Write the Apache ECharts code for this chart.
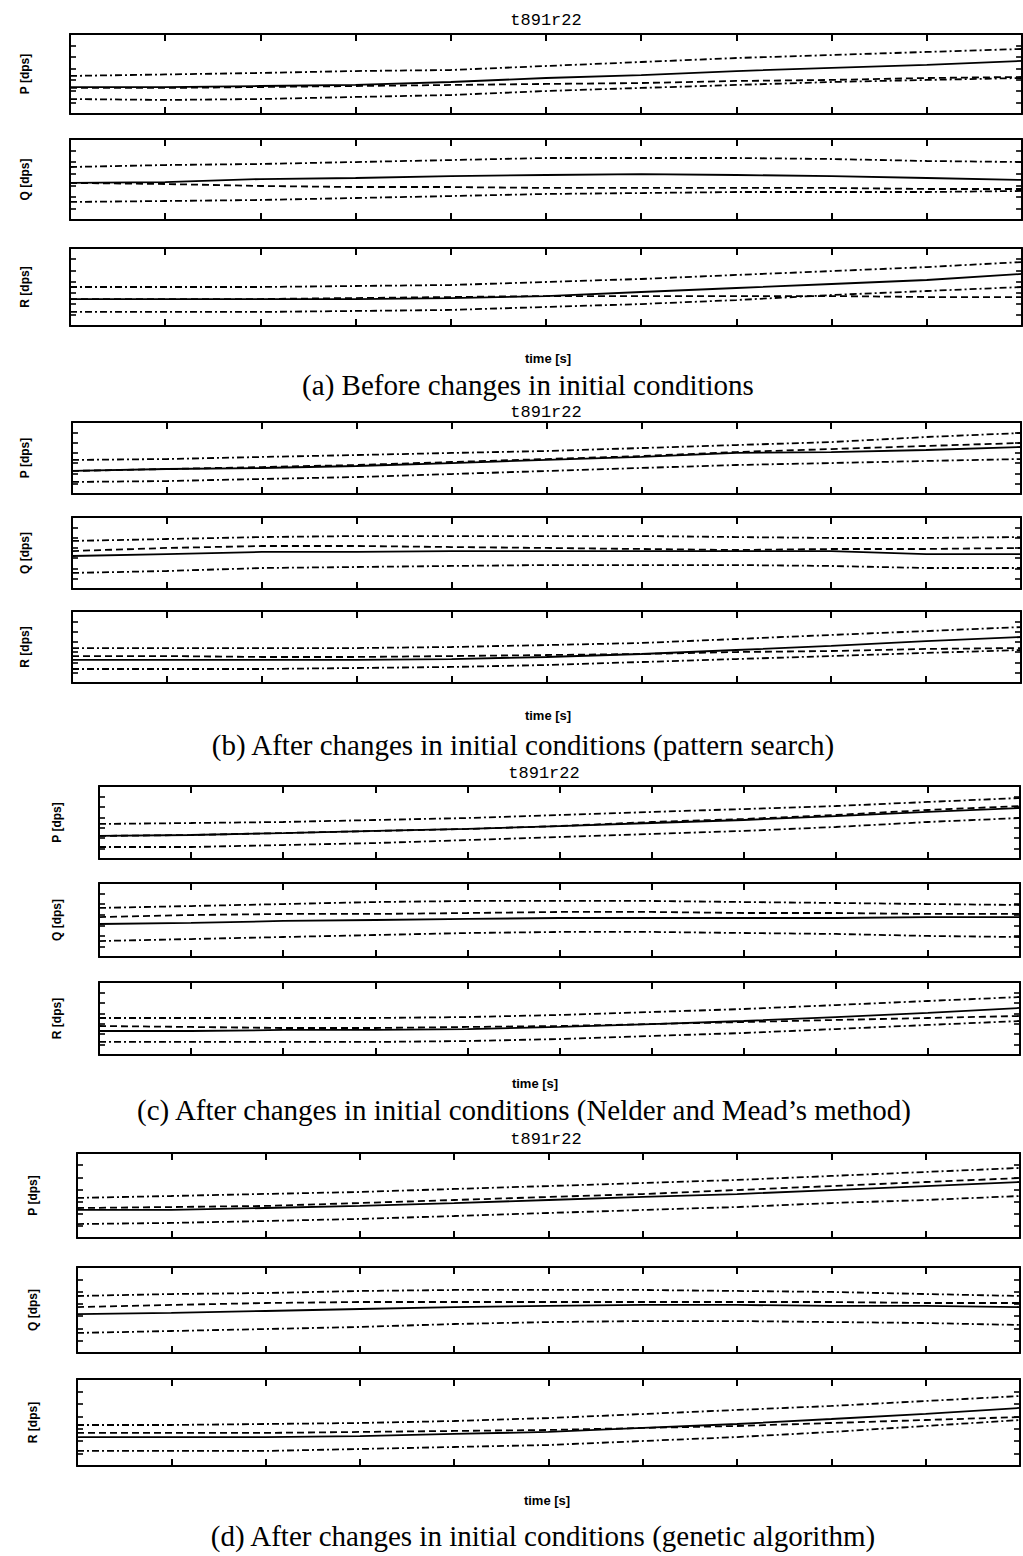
<!DOCTYPE html>
<html><head><meta charset="utf-8">
<script src="https://cdn.jsdelivr.net/npm/echarts@6/dist/echarts.min.js"></script>
<style>html,body{margin:0;padding:0;background:#fff;}#c{width:1023px;height:1556px;}</style>
</head><body><div id="c"></div>
<script>
const time = [0,1,2,3,4,5,6,7,8,9,10];
const panelLabels = ['P [dps]','Q [dps]','R [dps]'];
const runTitle = 't891r22';
const timeLabel = 'time [s]';
const captions = [
  '(a) Before changes in initial conditions',
  '(b) After changes in initial conditions (pattern search)',
  '(c) After changes in initial conditions (Nelder and Mead\u2019s method)',
  '(d) After changes in initial conditions (genetic algorithm)'
];

// (a) before changes
const aP_solid = [2.36,2.36,2.45,2.54,2.80,3.15,3.41,3.76,4.03,4.29,4.64];
const aP_dash  = [2.28,2.28,2.36,2.45,2.54,2.63,2.71,2.89,2.98,3.15,3.24];
const aP_upper = [3.33,3.46,3.59,3.76,3.85,4.20,4.55,4.90,5.16,5.43,5.69];
const aP_lower = [1.31,1.23,1.31,1.49,1.66,2.01,2.28,2.54,2.80,2.98,3.15];
const aQ_solid = [3.20,3.28,3.54,3.63,3.80,3.89,3.97,3.89,3.80,3.63,3.46];
const aQ_dash  = [3.20,3.11,2.94,2.85,2.85,2.77,2.77,2.77,2.77,2.68,2.68];
const aQ_upper = [4.58,4.75,4.84,5.01,5.18,5.36,5.36,5.36,5.27,5.10,5.01];
const aQ_lower = [1.56,1.64,1.73,1.90,2.07,2.25,2.33,2.42,2.42,2.42,2.51];
const aR_solid = [2.42,2.42,2.42,2.42,2.51,2.69,3.05,3.41,3.77,4.13,4.67];
const aR_dash  = [2.42,2.42,2.42,2.51,2.60,2.69,2.69,2.69,2.69,2.60,2.60];
const aR_upper = [3.50,3.50,3.50,3.59,3.68,3.95,4.22,4.58,4.93,5.29,5.74];
const aR_lower = [1.26,1.26,1.26,1.35,1.44,1.71,1.97,2.33,2.78,3.14,3.50];
// (b) pattern search
const bP_solid = [2.24,2.43,2.53,2.72,3.01,3.31,3.60,3.99,4.08,4.28,4.57];
const bP_dash  = [2.24,2.43,2.62,2.82,3.11,3.40,3.69,4.08,4.37,4.67,4.96];
const bP_upper = [3.31,3.40,3.60,3.79,3.99,4.18,4.47,4.76,5.05,5.54,5.93];
const bP_lower = [1.17,1.26,1.46,1.65,1.94,2.24,2.53,2.82,3.01,3.21,3.40];
const bQ_solid = [3.21,3.40,3.60,3.60,3.69,3.69,3.69,3.69,3.69,3.40,3.40];
const bQ_dash  = [3.69,3.99,4.18,4.18,4.08,3.99,3.89,3.79,3.89,3.89,3.99];
const bQ_upper = [4.67,4.86,5.05,5.15,5.15,5.15,5.15,5.05,4.96,4.96,5.05];
const bQ_lower = [1.56,1.75,2.04,2.14,2.24,2.33,2.33,2.33,2.24,2.04,2.04];
const bR_solid = [2.24,2.24,2.24,2.24,2.33,2.53,2.82,3.21,3.60,4.08,4.47];
const bR_dash  = [2.62,2.62,2.53,2.53,2.62,2.72,2.82,3.01,3.11,3.31,3.40];
const bR_upper = [3.40,3.40,3.40,3.40,3.50,3.69,3.89,4.28,4.67,5.05,5.44];
const bR_lower = [1.36,1.36,1.36,1.46,1.56,1.75,2.04,2.33,2.62,2.92,3.21];
// (c) Nelder and Mead
const cP_solid = [2.21,2.30,2.49,2.69,2.88,3.16,3.45,3.74,4.12,4.51,4.89];
const cP_dash  = [2.21,2.30,2.49,2.69,2.88,3.16,3.55,3.84,4.22,4.70,5.08];
const cP_upper = [3.36,3.45,3.55,3.74,3.93,4.22,4.51,4.79,5.08,5.47,5.85];
const cP_lower = [1.15,1.15,1.34,1.53,1.82,2.11,2.40,2.69,3.07,3.55,3.93];
const cQ_solid = [3.12,3.22,3.41,3.50,3.60,3.69,3.69,3.69,3.69,3.78,3.78];
const cQ_dash  = [3.78,3.97,4.07,4.07,4.16,4.26,4.26,4.16,4.16,4.07,4.07];
const cQ_upper = [4.64,4.82,5.01,5.20,5.30,5.30,5.30,5.20,5.11,5.01,4.92];
const cQ_lower = [1.51,1.70,1.89,2.08,2.27,2.37,2.37,2.27,2.18,1.99,1.89];
const cR_solid = [2.30,2.30,2.40,2.40,2.49,2.69,2.97,3.26,3.64,4.03,4.51];
const cR_dash  = [2.78,2.69,2.59,2.59,2.69,2.78,2.97,3.16,3.36,3.55,3.74];
const cR_upper = [3.55,3.55,3.55,3.55,3.64,3.84,4.12,4.41,4.79,5.18,5.56];
const cR_lower = [1.25,1.25,1.25,1.25,1.34,1.53,1.82,2.11,2.49,2.88,3.26];
// (d) genetic algorithm
const dP_solid = [2.31,2.31,2.47,2.64,2.88,3.13,3.38,3.62,3.95,4.28,4.61];
const dP_dash  = [2.47,2.55,2.64,2.88,3.13,3.38,3.62,3.95,4.28,4.61,4.94];
const dP_upper = [3.30,3.46,3.63,3.79,4.04,4.28,4.53,4.78,5.11,5.44,5.77];
const dP_lower = [1.15,1.24,1.40,1.57,1.81,2.06,2.31,2.55,2.88,3.13,3.46];
const dQ_solid = [3.17,3.26,3.42,3.58,3.74,3.83,3.91,3.91,3.83,3.83,3.74];
const dQ_dash  = [3.74,3.91,4.07,4.15,4.15,4.15,4.15,4.15,4.15,4.07,4.07];
const dQ_upper = [4.64,4.80,4.88,5.05,5.13,5.13,5.13,5.05,4.97,4.80,4.64];
const dQ_lower = [1.63,1.79,1.95,2.12,2.36,2.52,2.60,2.60,2.52,2.44,2.28];
const dR_solid = [2.33,2.33,2.33,2.41,2.58,2.74,3.06,3.38,3.78,4.19,4.67];
const dR_dash  = [2.66,2.66,2.66,2.74,2.82,2.90,3.06,3.22,3.46,3.70,3.94];
const dR_upper = [3.30,3.30,3.38,3.46,3.62,3.86,4.18,4.51,4.83,5.23,5.63];
const dR_lower = [1.21,1.21,1.21,1.37,1.53,1.69,2.01,2.33,2.74,3.22,3.70];

const groupData = [
  [[aP_solid,aP_dash,aP_upper,aP_lower],[aQ_solid,aQ_dash,aQ_upper,aQ_lower],[aR_solid,aR_dash,aR_upper,aR_lower]],
  [[bP_solid,bP_dash,bP_upper,bP_lower],[bQ_solid,bQ_dash,bQ_upper,bQ_lower],[bR_solid,bR_dash,bR_upper,bR_lower]],
  [[cP_solid,cP_dash,cP_upper,cP_lower],[cQ_solid,cQ_dash,cQ_upper,cQ_lower],[cR_solid,cR_dash,cR_upper,cR_lower]],
  [[dP_solid,dP_dash,dP_upper,dP_lower],[dQ_solid,dQ_dash,dQ_upper,dQ_lower],[dR_solid,dR_dash,dR_upper,dR_lower]]
];

const layout = [
  {left:70, right:1022, tops:[34,139,248], bottoms:[114,220,326], titleX:546, titleY:20, labelX:25, timeX:548, timeY:358, capX:528, capY:385},
  {left:72, right:1021, tops:[422,517,611], bottoms:[494,589,683], titleX:546, titleY:412, labelX:25, timeX:548, timeY:715, capX:523, capY:745},
  {left:99, right:1020, tops:[786,883,982], bottoms:[859,957,1055], titleX:544, titleY:773, labelX:57, timeX:535, timeY:1083, capX:524, capY:1110},
  {left:77, right:1020, tops:[1153,1267,1379], bottoms:[1238,1353,1466], titleX:546, titleY:1139, labelX:33, timeX:547, timeY:1500, capX:543, capY:1536}
];

const lineTypes = ['solid', [7,4], [7,3,2,3], [7,3,2,3]];

const grids=[], xAxes=[], yAxes=[], series=[], graphics=[];
function txt(x,y,text,size,weight,family,rot){
  return {type:'text', x:x, y:y, rotation:rot||0, silent:true,
    style:{text:text, fontSize:size, fontWeight:weight, fontFamily:family, fill:'#000',
      textAlign:'center', textVerticalAlign:'middle', align:'center', verticalAlign:'middle'}};
}
let gi=0;
layout.forEach((L,g)=>{
  for(let p=0;p<3;p++){
    grids.push({left:L.left, top:L.tops[p], width:L.right-L.left, height:L.bottoms[p]-L.tops[p], show:false, containLabel:false});
    const axisLine = {show:true, onZero:false, lineStyle:{color:'#000', width:2}};
    ['bottom','top'].forEach(pos=>xAxes.push({type:'value', gridIndex:gi, position:pos, min:0, max:10, interval:1,
      axisLine:axisLine, axisTick:{show:true, inside:true, length:7, lineStyle:{color:'#000', width:2}},
      axisLabel:{show:false}, splitLine:{show:false}}));
    ['left','right'].forEach(pos=>yAxes.push({type:'value', gridIndex:gi, position:pos, min:0, max:7, interval:1,
      axisLine:axisLine, axisTick:{show:true, inside:true, length:6, lineStyle:{color:'#000', width:1.6}},
      axisLabel:{show:false}, splitLine:{show:false}}));
    groupData[g][p].forEach((vals,k)=>{
      series.push({type:'line', xAxisIndex:2*gi, yAxisIndex:2*gi, symbol:'none', silent:true, animation:false,
        data: time.map((t,i)=>[t, vals[i]]),
        lineStyle:{color:'#000', width:1.8, type:lineTypes[k]}});
    });
    graphics.push(txt(L.labelX, (L.tops[p]+L.bottoms[p])/2, panelLabels[p], 12, 'bold', '"Liberation Sans", Arial, sans-serif', Math.PI/2));
    gi++;
  }
  graphics.push(txt(L.titleX, L.titleY, runTitle, 17, 'normal', '"Liberation Mono", monospace'));
  graphics.push(txt(L.timeX, L.timeY, timeLabel, 13, 'bold', '"Liberation Sans", Arial, sans-serif'));
  graphics.push(txt(L.capX, L.capY, captions[g], 29, 'normal', '"Liberation Serif", "Times New Roman", serif'));
});

const chart = echarts.init(document.getElementById('c'), null, {renderer:'svg', width:1023, height:1556});
chart.setOption({animation:false, backgroundColor:'#fff', grid:grids, xAxis:xAxes, yAxis:yAxes, series:series, graphic:graphics});
</script></body></html>
